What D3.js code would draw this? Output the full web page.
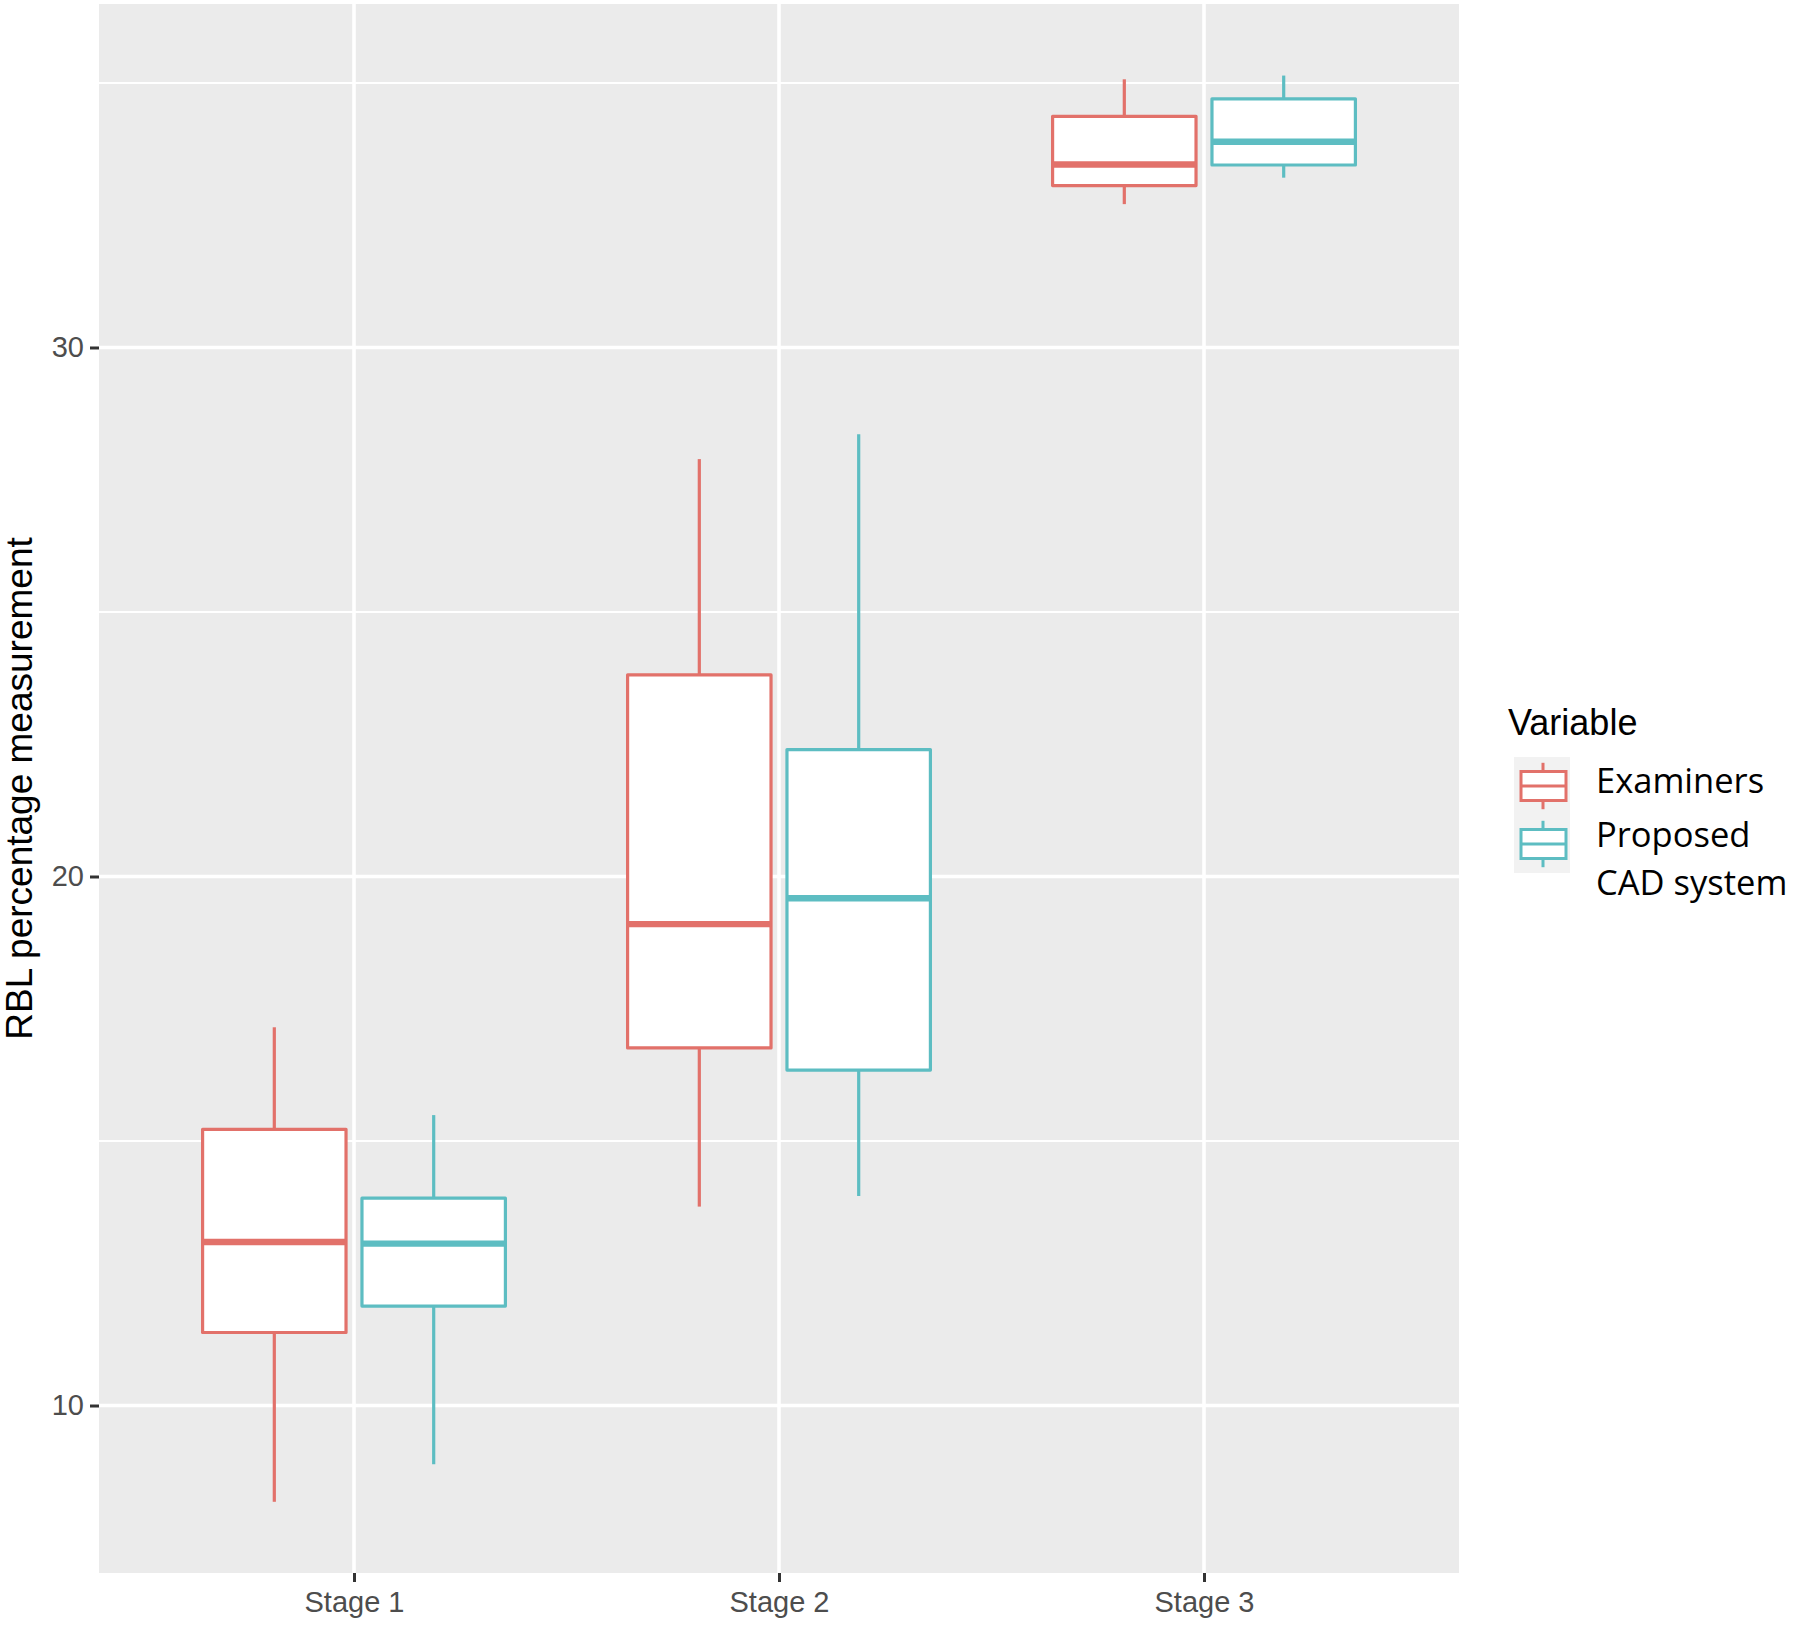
<!DOCTYPE html>
<html>
<head>
<meta charset="utf-8">
<script src="https://cdn.jsdelivr.net/npm/d3@7"></script>
<style>
  html, body { margin: 0; padding: 0; background: #fff; }
  svg { display: block; }
</style>
</head>
<body>
<svg id="chart" width="1800" height="1626"></svg>
<script>
// ---- data ----
const stages = ["Stage 1", "Stage 2", "Stage 3"];
const variables = ["Examiners", "Proposed CAD system"];
const legendLabels = [["Examiners"], ["Proposed", "CAD system"]];

const examinersMin    = [8.18, 13.76, 32.71];
const examinersQ1     = [11.38, 16.76, 33.06];
const examinersMedian = [13.09, 19.10, 33.46];
const examinersQ3     = [15.22, 23.81, 34.37];
const examinersMax    = [17.15, 27.89, 35.07];

const cadMin    = [8.89, 13.96, 33.21];
const cadQ1     = [11.88, 16.34, 33.45];
const cadMedian = [13.06, 19.59, 33.89];
const cadQ3     = [13.92, 22.40, 34.70];
const cadMax    = [15.49, 28.36, 35.14];

const majorTicks = [10, 20, 30];
const minorTicks = [15, 25, 35];
const yDomain = [6.834, 36.493];

const colors = ["#E2716A", "#5DBDC2"];

// ---- build rows ----
const rows = [];
stages.forEach((s, i) => {
  rows.push({stage: s, variable: variables[0], min: examinersMin[i], q1: examinersQ1[i], med: examinersMedian[i], q3: examinersQ3[i], max: examinersMax[i]});
  rows.push({stage: s, variable: variables[1], min: cadMin[i], q1: cadQ1[i], med: cadMedian[i], q3: cadQ3[i], max: cadMax[i]});
});

// ---- layout ----
const panel = {left: 99, right: 1459, top: 4, bottom: 1573};
const svg = d3.select("#chart");

const x = d3.scalePoint().domain(stages).range([panel.left, panel.right]).padding(0.6);
const step = x.step();
const dodge = d3.scaleBand().domain(variables)
  .range([-0.375 * step, 0.375 * step]).paddingInner(0.1).paddingOuter(0.05);
const y = d3.scaleLinear().domain(yDomain).range([panel.bottom, panel.top]);
const color = d3.scaleOrdinal().domain(variables).range(colors);

// panel background
svg.append("rect")
  .attr("x", panel.left).attr("y", panel.top)
  .attr("width", panel.right - panel.left).attr("height", panel.bottom - panel.top)
  .attr("fill", "#EBEBEB");

// minor grid
svg.append("g").selectAll("line").data(minorTicks).join("line")
  .attr("x1", panel.left).attr("x2", panel.right)
  .attr("y1", d => y(d)).attr("y2", d => y(d))
  .attr("stroke", "#fff").attr("stroke-width", 2);

// major grid (horizontal)
svg.append("g").selectAll("line").data(majorTicks).join("line")
  .attr("x1", panel.left).attr("x2", panel.right)
  .attr("y1", d => y(d)).attr("y2", d => y(d))
  .attr("stroke", "#fff").attr("stroke-width", 3.6);

// major grid (vertical)
svg.append("g").selectAll("line").data(stages).join("line")
  .attr("x1", d => x(d)).attr("x2", d => x(d))
  .attr("y1", panel.top).attr("y2", panel.bottom)
  .attr("stroke", "#fff").attr("stroke-width", 3.6);

// boxes
const bw = dodge.bandwidth();
const g = svg.append("g").selectAll("g").data(rows).join("g")
  .attr("transform", d => `translate(${x(d.stage) + dodge(d.variable) + bw / 2},0)`);

g.append("line").attr("x1", 0).attr("x2", 0)
  .attr("y1", d => y(d.q3)).attr("y2", d => y(d.max))
  .attr("stroke", d => color(d.variable)).attr("stroke-width", 3.2);
g.append("line").attr("x1", 0).attr("x2", 0)
  .attr("y1", d => y(d.q1)).attr("y2", d => y(d.min))
  .attr("stroke", d => color(d.variable)).attr("stroke-width", 3.2);
g.append("rect")
  .attr("x", -bw / 2).attr("width", bw)
  .attr("y", d => y(d.q3)).attr("height", d => y(d.q1) - y(d.q3))
  .attr("fill", "#fff").attr("stroke", d => color(d.variable)).attr("stroke-width", 3.2)
  .attr("stroke-linejoin", "round");
g.append("line").attr("x1", -bw / 2).attr("x2", bw / 2)
  .attr("y1", d => y(d.med)).attr("y2", d => y(d.med))
  .attr("stroke", d => color(d.variable)).attr("stroke-width", 6.4);

// y axis
const yAxis = d3.axisLeft(y).tickValues(majorTicks).tickSize(9).tickPadding(6);
const ya = svg.append("g").attr("transform", `translate(${panel.left},0)`).call(yAxis);
ya.select(".domain").remove();
ya.selectAll(".tick line").attr("stroke", "#333").attr("stroke-width", 3);
ya.selectAll(".tick text").attr("fill", "#4D4D4D")
  .style("font-family", "'Liberation Sans', Arial, sans-serif").style("font-size", "29px");

// x axis
const xAxis = d3.axisBottom(x).tickSize(9).tickPadding(9);
const xa = svg.append("g").attr("transform", `translate(0,${panel.bottom})`).call(xAxis);
xa.select(".domain").remove();
xa.selectAll(".tick line").attr("stroke", "#333").attr("stroke-width", 3);
xa.selectAll(".tick text").attr("fill", "#4D4D4D")
  .style("font-family", "'Liberation Sans', Arial, sans-serif").style("font-size", "29px");

// y axis title
svg.append("text")
  .attr("transform", `translate(32,${(panel.top + panel.bottom) / 2}) rotate(-90)`)
  .attr("text-anchor", "middle")
  .style("font-family", "'Liberation Sans', Arial, sans-serif").style("font-size", "37px")
  .attr("fill", "#000")
  .text("RBL percentage measurement");

// legend
const lg = svg.append("g");
lg.append("text").attr("x", 1508).attr("y", 735)
  .style("font-family", "'Liberation Sans', Arial, sans-serif").style("font-size", "36px")
  .attr("fill", "#000").text("Variable");

const keyX = 1514, keyW = 56, keyH = 58, keyY = 757;
lg.append("rect").attr("x", keyX).attr("y", keyY).attr("width", keyW).attr("height", keyH * 2)
  .attr("fill", "#F2F2F2");

const keys = lg.selectAll("g.key").data(variables).join("g").attr("class", "key")
  .attr("transform", (d, i) => `translate(${keyX},${keyY + i * keyH})`);
keys.append("line").attr("x1", keyW / 2 + 1).attr("x2", keyW / 2 + 1)
  .attr("y1", keyH * 0.1).attr("y2", keyH * 0.9)
  .attr("stroke", d => color(d)).attr("stroke-width", 3);
keys.append("rect").attr("x", 7).attr("width", 45)
  .attr("y", keyH * 0.25).attr("height", keyH * 0.5)
  .attr("fill", "#fff").attr("stroke", d => color(d)).attr("stroke-width", 3);
keys.append("line").attr("x1", 7).attr("x2", 52)
  .attr("y1", keyH * 0.5).attr("y2", keyH * 0.5)
  .attr("stroke", d => color(d)).attr("stroke-width", 3);

const lblY = [793, 847];
legendLabels.forEach((lines, i) => {
  const t = lg.append("text").attr("x", 1596).attr("y", lblY[i])
    .style("font-family", "'Open Sans', 'Noto Sans', sans-serif").style("font-size", "34.5px")
    .attr("fill", "#000");
  lines.forEach((ln, j) => {
    t.append("tspan").attr("x", 1596).attr("dy", j === 0 ? 0 : 48).text(ln);
  });
});
</script>
</body>
</html>
